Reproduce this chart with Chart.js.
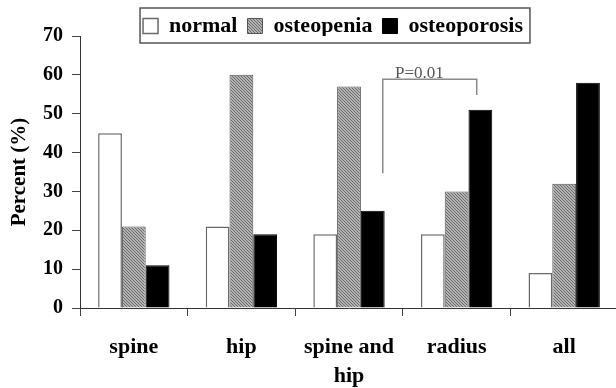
<!DOCTYPE html>
<html>
<head>
<meta charset="utf-8">
<script src="https://cdn.jsdelivr.net/npm/chart.js@4/dist/chart.umd.min.js"></script>
<style>
  html, body { margin: 0; padding: 0; background: #fff; overflow: hidden; }
  #wrap { width: 624px; height: 388px; position: relative; }
</style>
</head>
<body>
<div id="wrap"><canvas id="boneChart"></canvas></div>
<script>
// values (percent)
var sites = ['spine', 'hip', ['spine and', 'hip'], 'radius', 'all'];
var normal = [45, 21, 19, 19, 9];
var osteopenia = [21, 60, 57, 30, 32];
var osteoporosis = [11, 19, 25, 51, 58];
var yTicks = [0, 10, 20, 30, 40, 50, 60, 70];

// significance bracket: spine and hip vs radius
var bracketCats = [2, 3];
var bracketLevels = [34.7, 58.9, 54.8]; // left foot, top, right foot
var bracketText = 'P=0.01';

var serif = "'Liberation Serif', 'Times New Roman', serif";

// fine diagonal hatch for the osteopenia bars
function hatch(ctx) {
  var c = document.createElement('canvas');
  c.width = 3; c.height = 3;
  var g = c.getContext('2d');
  g.fillStyle = '#b2b2b2';
  g.fillRect(0, 0, 3, 3);
  g.fillStyle = '#6c6c6c';
  for (var i = 0; i < 3; i++) g.fillRect(i, i, 1, 1);
  return ctx.createPattern(c, 'repeat');
}

// move legend right, then draw its frame
var legendFrame = {
  id: 'legendFrame',
  afterLayout: function(chart) {
    chart.legend.left += 24;
    chart.legend.right += 24;
  },
  afterDraw: function(chart) {
    var hb = chart.legend.legendHitBoxes;
    if (!hb || !hb.length) return;
    var last = hb[hb.length - 1];
    var l = hb[0].left - 3, r = last.left + last.width + 7;
    var cy = hb[0].top + hb[0].height / 2;
    var ctx = chart.ctx;
    ctx.save();
    ctx.strokeStyle = '#555';
    ctx.lineWidth = 1.5;
    ctx.strokeRect(l, cy - 18, r - l, 35);
    ctx.restore();
  }
};

var bracket = {
  id: 'bracket',
  afterDatasetsDraw: function(chart) {
    var x = chart.scales.x, y = chart.scales.y;
    var cw = x.getPixelForValue(1) - x.getPixelForValue(0);
    var x1 = x.getPixelForValue(bracketCats[0]) + 0.314 * cw;
    var x2 = x.getPixelForValue(bracketCats[1]) + 0.187 * cw;
    var yTop = y.getPixelForValue(bracketLevels[1]);
    var ctx = chart.ctx;
    ctx.save();
    ctx.strokeStyle = '#8a8a8a';
    ctx.lineWidth = 1.5;
    ctx.beginPath();
    ctx.moveTo(x1, y.getPixelForValue(bracketLevels[0]));
    ctx.lineTo(x1, yTop);
    ctx.lineTo(x2, yTop);
    ctx.lineTo(x2, y.getPixelForValue(bracketLevels[2]));
    ctx.stroke();
    ctx.fillStyle = '#555';
    ctx.font = '17px ' + serif;
    ctx.textAlign = 'center';
    ctx.textBaseline = 'alphabetic';
    ctx.fillText(bracketText, x1 + 0.39 * (x2 - x1), yTop - 1);
    ctx.restore();
  }
};

function bonePlot() {
  var ctx = document.getElementById('boneChart').getContext('2d');
  var gray = hatch(ctx);
  new Chart(ctx, {
    type: 'bar',
    data: {
      labels: sites,
      datasets: [{
        label: 'normal',
        data: normal,
        backgroundColor: '#ffffff',
        borderColor: '#6a6a6a',
        borderWidth: 1.5
      }, {
        label: 'osteopenia',
        data: osteopenia,
        backgroundColor: gray,
        borderColor: '#555',
        borderWidth: 1
      }, {
        label: 'osteoporosis',
        data: osteoporosis,
        backgroundColor: '#000000',
        borderColor: '#000000',
        borderWidth: 1
      }]
    },
    options: {
      responsive: true,
      maintainAspectRatio: false,
      animation: false,
      layout: { padding: { top: 5, right: 6, left: 0, bottom: 0 } },
      datasets: { bar: { categoryPercentage: 0.663, barPercentage: 1.0 } },
      plugins: {
        tooltip: { enabled: false },
        legend: {
          position: 'top',
          maxHeight: 31,
          labels: {
            color: '#000',
            boxWidth: 15,
            boxHeight: 15,
            padding: 10,
            font: { family: serif, size: 22, weight: 'bold' }
          }
        }
      },
      scales: {
        x: {
          grid: { offset: true, drawOnChartArea: false, tickLength: 8, color: '#444' },
          border: { color: '#333', width: 1 },
          ticks: {
            color: '#000',
            padding: 17,
            maxRotation: 0,
            autoSkip: false,
            font: { family: serif, size: 22, weight: 'bold', lineHeight: 1.3 }
          },
          afterFit: function(s) { s.height = 80; }
        },
        y: {
          min: 0,
          max: 70,
          afterBuildTicks: function(s) {
            s.ticks = yTicks.map(function(v) { return { value: v }; });
          },
          grid: { drawOnChartArea: false, tickLength: 8, color: '#444' },
          border: { color: '#333', width: 1 },
          ticks: {
            color: '#000',
            padding: 9,
            font: { family: serif, size: 20, weight: 'bold' }
          },
          title: {
            display: true,
            text: 'Percent (%)',
            color: '#000',
            padding: { top: 7, bottom: 9 },
            font: { family: serif, size: 21, weight: 'bold' }
          },
          afterFit: function(s) { s.width = 80; }
        }
      }
    },
    plugins: [legendFrame, bracket]
  });
}

bonePlot();
</script>
</body>
</html>
